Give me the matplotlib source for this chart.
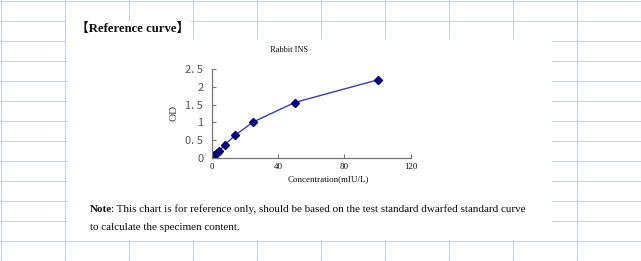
import matplotlib
matplotlib.use("Agg")
import matplotlib.pyplot as plt
from matplotlib.patches import Rectangle

# standard curve readings
conc = [0, 1.5, 3, 4.5, 8, 14, 25, 50, 100]
od = [0.03, 0.08, 0.14, 0.2, 0.37, 0.63, 1.01, 1.56, 2.2]

x_ticks = [0, 40, 80, 120]
x_tick_labels = ["0", "40", "80", "120"]
y_ticks = [0, 0.5, 1, 1.5, 2, 2.5]
y_tick_labels = ["0", "0. 5", "1", "1. 5", "2", "2. 5"]

W, H = 641, 261
fig = plt.figure(figsize=(W / 100, H / 100), dpi=100)

# spreadsheet background in pixel coordinates
bg = fig.add_axes([0, 0, 1, 1])
bg.set_xlim(0, W)
bg.set_ylim(H, 0)
bg.axis("off")
grid_col = "#c9d0e2"
for gx in range(0, W, 64):
    bg.axvline(gx + 0.5, color=grid_col, lw=0.8, zorder=1)
for gy in range(0, H, 20):
    bg.axhline(gy + 0.5, color=grid_col, lw=0.8, zorder=1)
bg.add_patch(Rectangle((68, 39.8), 484, 199.7, facecolor="white",
                       edgecolor="none", zorder=2))
bg.add_patch(Rectangle((66, 21.2), 125, 21, facecolor="white",
                       edgecolor="none", zorder=2))

serif = ["Liberation Serif", "Noto Sans CJK SC", "DejaVu Serif"]
txt = dict(family=serif, va="center", color="#111", zorder=5)
bg.text(76, 29, "【Reference curve】", fontsize=9.2, fontweight="bold",
        ha="left", **txt)
bg.text(90, 209, "Note", fontsize=8, fontweight="bold", ha="left", **txt)
bg.text(111, 209, ": This chart is for reference only, should be based on the test "
        "standard dwarfed standard curve", fontsize=8, ha="left", **txt)
bg.text(90, 227, "to calculate the specimen content.", fontsize=8, ha="left",
        **txt)
bg.text(289, 50, "Rabbit INS", fontsize=6, ha="center", **txt)
bg.text(328, 179, "Concentration(mIU/L)", fontsize=6.5, ha="center", **txt)
bg.text(174, 113, "OD", family=serif, fontsize=8, va="center",
        ha="center", rotation=90, color="#444", zorder=5)

# chart
ax = fig.add_axes([211.7 / W, (H - 157.7) / H, 199 / W, 88.4 / H])
ax.patch.set_alpha(0)
ax.plot(conc, od, color="#3b3bb0", lw=1, marker="D", ms=4,
        mfc="#000080", mec="#000080")
ax.set_xlim(0, 120)
ax.set_ylim(0, 2.5)
ax.set_xticks(x_ticks)
ax.set_xticklabels(x_tick_labels, family=serif, fontsize=6.5)
ax.set_yticks(y_ticks)
ax.set_yticklabels(y_tick_labels, family=["Noto Sans CJK SC"], fontsize=8,
                   color="#555")
ax.tick_params(axis="x", direction="in", length=3, width=0.8, pad=4,
               colors="#777", labelcolor="#111")
ax.tick_params(axis="y", direction="in", length=3, width=0.8, pad=6,
               colors="#777", labelcolor="#555")
for side in ["top", "right"]:
    ax.spines[side].set_visible(False)
for side in ["left", "bottom"]:
    ax.spines[side].set_color("#777")
    ax.spines[side].set_linewidth(0.9)

fig.savefig("out.png", dpi=100)
